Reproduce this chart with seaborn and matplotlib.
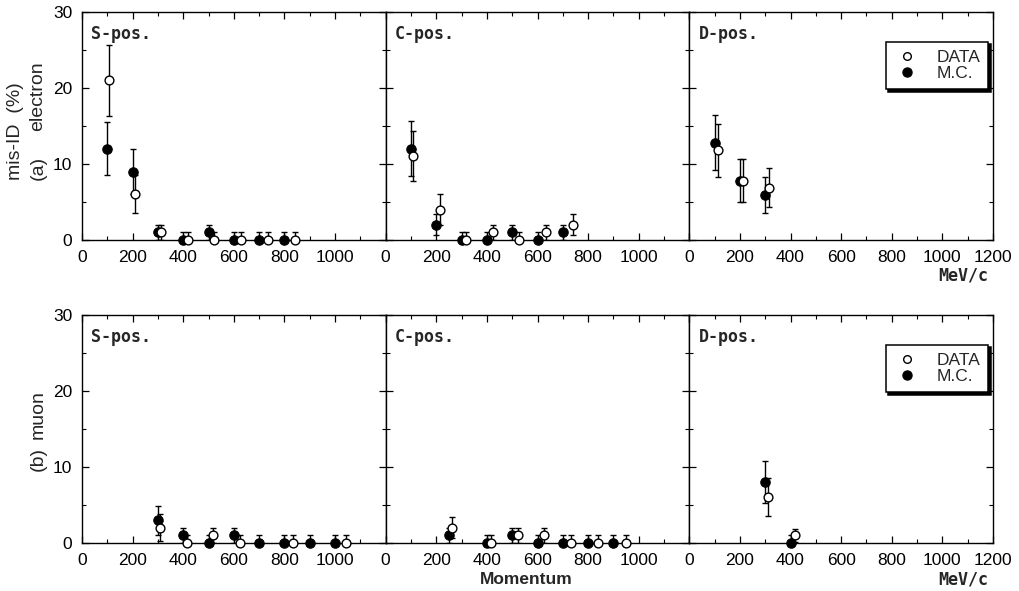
import numpy as np
import pandas as pd
import matplotlib
matplotlib.use("Agg")
import matplotlib.pyplot as plt
import seaborn as sns
from matplotlib.lines import Line2D
from matplotlib.ticker import MultipleLocator

sns.set_theme(style="ticks")
plt.rcParams['font.family'] = ['Liberation Sans', 'DejaVu Sans']

# ---------------- data (momentum MeV/c, mis-ID %) ----------------
# electron, S-pos.
e_s_mc_x = [100, 200, 300, 400, 500, 600, 700, 800]
e_s_mc_y = [12, 9, 1, 0, 1, 0, 0, 0]
e_s_mc_err = [3.5, 3, 1, 1, 1, 1, 1, 1]
e_s_data_x = [108, 210, 313, 418, 523, 628, 735, 840]
e_s_data_y = [21, 6, 1, 0, 0, 0, 0, 0]
e_s_data_err = [4.7, 2.5, 1, 1, 1, 1, 1, 1]
# electron, C-pos.
e_c_mc_x = [100, 200, 300, 400, 500, 600, 700]
e_c_mc_y = [12, 2, 0, 0, 1, 0, 1]
e_c_mc_err = [3.6, 1.4, 1, 1, 1, 1, 1]
e_c_data_x = [108, 214, 318, 424, 527, 634, 739]
e_c_data_y = [11, 4, 0, 1, 0, 1, 2]
e_c_data_err = [3.3, 2, 1, 1, 1, 1, 1.4]
# electron, D-pos.
e_d_mc_x = [100, 200, 300]
e_d_mc_y = [12.8, 7.8, 5.9]
e_d_mc_err = [3.6, 2.8, 2.4]
e_d_data_x = [112, 211, 314]
e_d_data_y = [11.8, 7.8, 6.9]
e_d_data_err = [3.5, 2.8, 2.6]
# muon, S-pos.
m_s_mc_x = [300, 400, 500, 600, 700, 800, 900, 1000]
m_s_mc_y = [3, 1, 0, 1, 0, 0, 0, 0]
m_s_mc_err = [1.9, 1, 1, 1, 1, 1, 1, 1]
m_s_data_x = [310, 414, 516, 623, 834, 1044]
m_s_data_y = [2, 0, 1, 0, 0, 0]
m_s_data_err = [1.8, 1, 1, 1, 1, 1]
# muon, C-pos.
m_c_mc_x = [250, 400, 500, 600, 700, 800, 900]
m_c_mc_y = [1, 0, 1, 0, 0, 0, 0]
m_c_mc_err = [1, 1, 1, 1, 1, 1, 1]
m_c_data_x = [261, 418, 522, 627, 733, 838, 948]
m_c_data_y = [2, 0, 1, 1, 0, 0, 0]
m_c_data_err = [1.4, 1, 1, 1, 1, 1, 1]
# muon, D-pos.
m_d_mc_x = [300, 400]
m_d_mc_y = [8, 0]
m_d_mc_err = [2.8, 1]
m_d_data_x = [312, 416]
m_d_data_y = [6, 1]
m_d_data_err = [2.5, 0.9]

positions = ["S-pos.", "C-pos.", "D-pos."]
series_labels = ["DATA", "M.C."]

rows = [
    [(e_s_mc_x, e_s_mc_y, e_s_mc_err, e_s_data_x, e_s_data_y, e_s_data_err),
     (e_c_mc_x, e_c_mc_y, e_c_mc_err, e_c_data_x, e_c_data_y, e_c_data_err),
     (e_d_mc_x, e_d_mc_y, e_d_mc_err, e_d_data_x, e_d_data_y, e_d_data_err)],
    [(m_s_mc_x, m_s_mc_y, m_s_mc_err, m_s_data_x, m_s_data_y, m_s_data_err),
     (m_c_mc_x, m_c_mc_y, m_c_mc_err, m_c_data_x, m_c_data_y, m_c_data_err),
     (m_d_mc_x, m_d_mc_y, m_d_mc_err, m_d_data_x, m_d_data_y, m_d_data_err)],
]

W, H = 1020, 591
fig = plt.figure(figsize=(W / 100, H / 100), dpi=100)
L, R = 82 / W, 993 / W
pw = (R - L) / 3
row_geom = [(1 - 240 / H, 228 / H), (1 - 543 / H, 228 / H)]

mono = dict(family=['DejaVu Sans Mono'], fontweight='bold')

for r, (bottom, h) in enumerate(row_geom):
    for i in range(3):
        ax = fig.add_axes([L + i * pw, bottom, pw, h])
        mc_x, mc_y, mc_e, d_x, d_y, d_e = rows[r][i]
        df_mc = pd.DataFrame({"p": mc_x, "v": mc_y, "e": mc_e})
        df_d = pd.DataFrame({"p": d_x, "v": d_y, "e": d_e})
        for df in (df_mc, df_d):
            ax.errorbar(df["p"], df["v"], yerr=df["e"], fmt='none', ecolor='black',
                        elinewidth=1.0, capsize=2.5, capthick=1.0, zorder=2)
        sns.scatterplot(data=df_mc, x="p", y="v", ax=ax, color='black', marker='o',
                        s=46, edgecolor='black', linewidth=0.8, zorder=4, clip_on=False)
        sns.scatterplot(data=df_d, x="p", y="v", ax=ax, color='white', marker='o',
                        s=40, edgecolor='black', linewidth=1.0, zorder=5, clip_on=False)
        ax.set_xlim(0, 1200)
        ax.set_ylim(0, 30)
        ax.set_xlabel("")
        ax.set_ylabel("")
        ax.yaxis.set_major_locator(MultipleLocator(10))
        ax.yaxis.set_minor_locator(MultipleLocator(5))
        ax.xaxis.set_minor_locator(MultipleLocator(100))
        xt = list(range(0, 1201, 200))
        ax.set_xticks(xt)
        ax.set_xticklabels([str(t) if (i == 2 or t < 1200) else "" for t in xt])
        ax.tick_params(which='both', direction='in', top=True, right=True,
                       colors='black', labelsize=12.5, pad=7)
        ax.tick_params(which='major', length=5, width=0.9)
        ax.tick_params(which='minor', length=3, width=0.8)
        if i > 0:
            ax.tick_params(axis='y', labelleft=False)
        for sp in ax.spines.values():
            sp.set_color('black')
            sp.set_linewidth(1.0)
        ax.text(0.03, 0.905, positions[i], transform=ax.transAxes, fontsize=12,
                ha='left', va='center', **mono)
        if i == 2:
            handles = [Line2D([], [], marker='o', ls='none', mfc='white', mec='black', ms=5.5, mew=1.0),
                       Line2D([], [], marker='o', ls='none', mfc='black', mec='black', ms=6.5)]
            leg = ax.legend(handles, series_labels, loc='upper right',
                            bbox_to_anchor=(0.985, 0.87), fontsize=12.5, frameon=True,
                            fancybox=False, framealpha=1, edgecolor='black',
                            shadow={'facecolor': 'black', 'edgecolor': 'black', 'alpha': 1},
                            borderpad=0.45, labelspacing=0.1, handlelength=1.6,
                            handletextpad=0.9, borderaxespad=0)
            leg.get_frame().set_linewidth(1.1)
    fig.text(988 / W, 1 - (275 if r == 0 else 579) / H, "MeV/c", ha='right', va='center',
             fontsize=12, **mono)

lab = dict(rotation=90, ha='center', va='center', fontsize=14)
fig.text(16 / W, 1 - 131 / H, "mis-ID  (%)", **lab)
fig.text(38 / W, 1 - 96 / H, "electron", **lab)
fig.text(38 / W, 1 - 168 / H, "(a)", **lab)
fig.text(38 / W, 1 - 415 / H, "muon", **lab)
fig.text(38 / W, 1 - 459 / H, "(b)", **lab)
fig.text(526 / W, 1 - 580 / H, "Momentum", ha='center', va='center', fontsize=12.5,
         fontweight='bold')

fig.savefig("out.png", dpi=100)
